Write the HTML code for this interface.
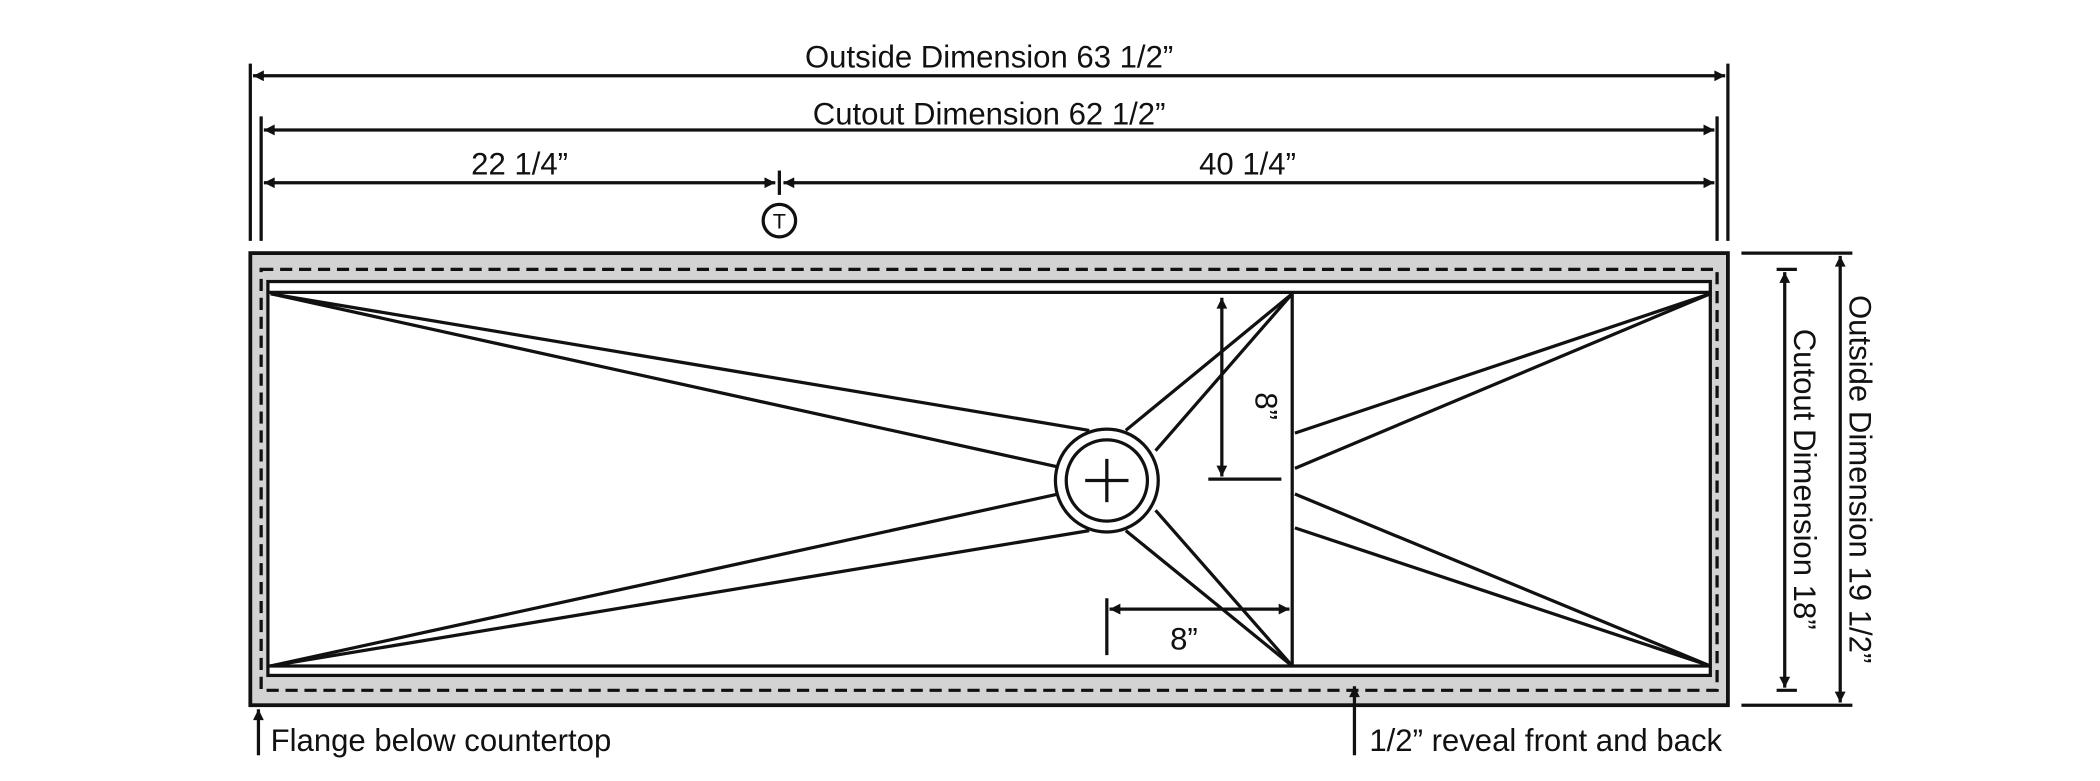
<!DOCTYPE html>
<html><head><meta charset="utf-8"><style>html,body{margin:0;padding:0;background:#fff;width:2100px;height:781px;overflow:hidden}svg{display:block}text{font-family:"Liberation Sans",Arial,sans-serif;font-size:23px;fill:#111}</style></head><body>
<svg width="2100" height="781" viewBox="0 0 1552 577" preserveAspectRatio="none" xmlns="http://www.w3.org/2000/svg">
<defs><marker id="a" viewBox="0 0 10 10" refX="10" refY="5" markerWidth="9" markerHeight="8" orient="auto-start-reverse" markerUnits="userSpaceOnUse"><path d="M0,0L10,5L0,10z" fill="#111"/></marker>
<marker id="b" viewBox="0 0 10 10" refX="10" refY="5" markerWidth="18" markerHeight="8" orient="auto-start-reverse" markerUnits="userSpaceOnUse"><path d="M0,0L10,5L0,10z" fill="#111"/></marker></defs>
<g stroke="#111" stroke-width="2.4" fill="none">
<line x1="185" y1="47" x2="185" y2="178"/><line x1="1277" y1="47" x2="1277" y2="178"/>
<line x1="193" y1="86" x2="193" y2="178"/><line x1="1269" y1="86" x2="1269" y2="178"/>
<line x1="187" y1="56" x2="1275" y2="56" marker-start="url(#b)" marker-end="url(#b)"/>
<line x1="195" y1="96" x2="1267" y2="96" marker-start="url(#b)" marker-end="url(#b)"/>
<line x1="195" y1="135" x2="573" y2="135" marker-start="url(#b)" marker-end="url(#b)"/>
<line x1="579" y1="135" x2="1267" y2="135" marker-start="url(#b)" marker-end="url(#b)"/>
<line x1="576" y1="126" x2="576" y2="144"/>
<circle cx="576" cy="163" r="12"/>
<rect x="185" y="187" width="1092" height="334" fill="#d3d3d3" stroke-width="2.8"/>
<rect x="193" y="199" width="1076" height="311" stroke-dasharray="9,5"/>
<rect x="198" y="208" width="1066" height="291" fill="#fff"/>
<line x1="198" y1="216" x2="1264" y2="216"/><line x1="198" y1="492" x2="1264" y2="492"/>
<line x1="955" y1="216" x2="955" y2="492"/>
<line x1="200" y1="217" x2="805" y2="318"/><line x1="200" y1="217" x2="782" y2="345"/>
<line x1="200" y1="492" x2="782" y2="365"/><line x1="200" y1="492" x2="805" y2="392"/>
<line x1="955" y1="217" x2="832" y2="318"/><line x1="955" y1="217" x2="854" y2="333"/>
<line x1="955" y1="492" x2="832" y2="392"/><line x1="955" y1="492" x2="854" y2="377"/>
<line x1="1264" y1="217" x2="957" y2="320"/><line x1="1264" y1="217" x2="957" y2="346"/>
<line x1="1264" y1="492" x2="957" y2="365"/><line x1="1264" y1="492" x2="957" y2="390"/>
<circle cx="818" cy="355" r="38" fill="#fff"/><circle cx="818" cy="355" r="30"/>
<line x1="802" y1="355" x2="834" y2="355"/><line x1="818" y1="339" x2="818" y2="371"/>
<line x1="903" y1="220" x2="903" y2="352" marker-start="url(#a)" marker-end="url(#a)"/>
<line x1="893" y1="354" x2="947" y2="354"/>
<line x1="818" y1="442" x2="818" y2="484"/>
<line x1="820" y1="450" x2="953" y2="450" marker-start="url(#a)" marker-end="url(#a)"/>
<line x1="1287" y1="187" x2="1369" y2="187"/><line x1="1287" y1="521" x2="1369" y2="521"/>
<line x1="1360" y1="189" x2="1360" y2="519" marker-start="url(#a)" marker-end="url(#a)"/>
<line x1="1313" y1="199" x2="1328" y2="199"/><line x1="1313" y1="510" x2="1328" y2="510"/>
<line x1="1319" y1="201" x2="1319" y2="508" marker-start="url(#a)" marker-end="url(#a)"/>
<line x1="191" y1="558" x2="191" y2="524" marker-end="url(#a)"/>
<line x1="1001" y1="558" x2="1001" y2="507" marker-end="url(#a)"/>
</g>
<text x="731" y="50" text-anchor="middle">Outside Dimension 63 1/2”</text>
<text x="731" y="92" text-anchor="middle">Cutout Dimension 62 1/2”</text>
<text x="384" y="129" text-anchor="middle">22 1/4”</text>
<text x="922" y="129" text-anchor="middle">40 1/4”</text>
<text x="576" y="169" text-anchor="middle" style="font-size:16px">T</text>
<text x="875" y="480" text-anchor="middle">8”</text>
<text transform="translate(928,300) rotate(90)" text-anchor="middle">8”</text>
<text transform="translate(1367,354) rotate(90)" text-anchor="middle">Outside Dimension 19 1/2”</text>
<text transform="translate(1326,354) rotate(90)" text-anchor="middle">Cutout Dimension 18”</text>
<text x="200" y="555">Flange below countertop</text>
<text x="1012" y="555">1/2” reveal front and back</text>
</svg>
</body></html>
